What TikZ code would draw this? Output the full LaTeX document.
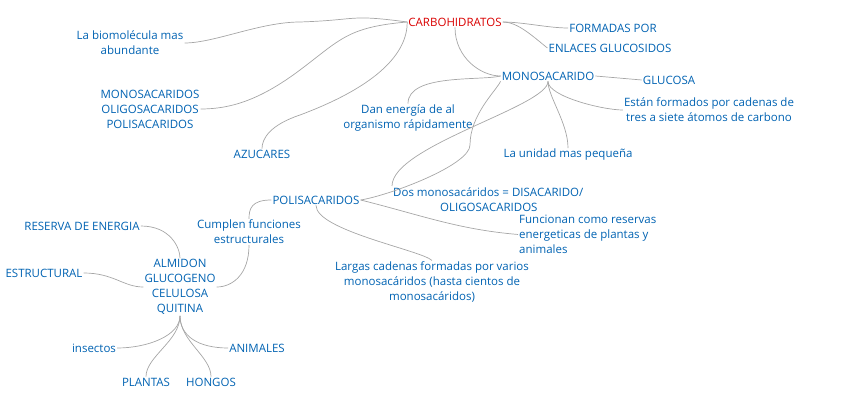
\documentclass[tikz,border=0pt]{standalone}
\usepackage{fontspec}
\setmainfont{Open Sans}
\begin{document}
\begin{tikzpicture}[x=1pt,y=-1pt,
  t/.style={text=blue!45!cyan!70!black,font=\fontsize{11.5}{15}\selectfont,inner sep=1pt,align=center},
  c/.style={draw=gray!70,line width=0.7pt}]
\useasboundingbox (0,0) rectangle (848,403);
\node[t,text=red!85!black] (carb) at (455,22) {CARBOHIDRATOS};
\node[t] (form) at (613,28) {FORMADAS POR};
\node[t] (enl) at (610,48) {ENLACES GLUCOSIDOS};
\node[t] (bio) at (130,43) {La biomolécula mas\\abundante};
\node[t] (mos) at (150,109) {MONOSACARIDOS\\OLIGOSACARIDOS\\POLISACARIDOS};
\node[t] (azu) at (262,154) {AZUCARES};
\node[t] (dan) at (408,118) {Dan energía de al\\organismo rápidamente};
\node[t] (mono) at (548,76) {MONOSACARIDO};
\node[t] (glu) at (669,80) {GLUCOSA};
\node[t] (est) at (709,110) {Están formados por cadenas de\\tres a siete átomos de carbono};
\node[t] (uni) at (568,155) {La unidad mas pequeña};
\node[t,align=left,anchor=north west] (dos) at (392,186) {Dos monosacáridos = DISACARIDO/\\\hspace*{47pt}OLIGOSACARIDOS};
\node[t,align=left,anchor=north west] (fun) at (518,214) {Funcionan como reservas\\energeticas de plantas y\\animales};
\node[t] (pol) at (316,200) {POLISACARIDOS};
\node[t] (cum) at (249,232) {Cumplen funciones\\estructurales};
\node[t] (lar) at (432,282) {Largas cadenas formadas por varios\\monosacáridos (hasta cientos de\\monosacáridos)};
\node[t] (res) at (82,226) {RESERVA DE ENERGIA};
\node[t] (estr) at (44,273) {ESTRUCTURAL};
\node[t] (alm) at (180,287) {ALMIDON\\GLUCOGENO\\CELULOSA\\QUITINA};
\node[t] (ins) at (94,348) {insectos};
\node[t] (ani) at (257,348) {ANIMALES};
\node[t] (pla) at (146,382) {PLANTAS};
\node[t] (hon) at (211,382) {HONGOS};
% connectors
\draw[c] (carb.west) .. controls +(-60,-8) and +(60,-2) .. (300,22) .. controls +(-40,0) and +(30,0) .. (bio.east);
\draw[c] (carb.west) .. controls +(-60,5) and +(40,-30) .. (300,70) .. controls +(-40,30) and +(30,0) .. (mos.east);
\draw[c] (carb.west) .. controls +(0,30) and +(80,-30) .. (300,115) .. controls +(-30,10) and +(0,-10) .. (azu.north);
\draw[c] (carb.east) .. controls +(20,0) and +(-20,0) .. (form.west);
\draw[c] (carb.east) .. controls +(15,0) and +(-15,-12) .. (enl.west);
\draw[c] (carb.south) .. controls +(0,30) and +(-20,0) .. (mono.west);
\draw[c] (dan.north) .. controls +(0,-30) and +(-20,5) .. (mono.west);
\draw[c] (mono.east) -- (glu.west);
\draw[c] (mono.south) .. controls +(0,15) and +(-20,0) .. (est.west);
\draw[c] (mono.south) .. controls +(0,15) and +(0,-25) .. (uni.north);
\draw[c] (mono.south) .. controls +(0,25) and +(0,-40) .. (dos.north west);
\draw[c] (pol.east) .. controls +(30,-5) and +(0,20) .. (470,145) .. controls +(0,-30) and +(-5,10) .. (mono.south west);
\draw[c] (pol.east) .. controls +(60,15) and +(-60,-5) .. (fun.west);
\draw[c] (pol.south) .. controls +(0,25) and +(-10,-10) .. (lar.north);
\draw[c] (pol.west) .. controls +(-20,0) and +(0,-10) .. (cum.north);
\draw[c] (cum.south) .. controls +(0,30) and +(15,0) .. (alm.east);
\draw[c] (res.east) .. controls +(30,0) and +(0,-10) .. (alm.north);
\draw[c] (estr.east) .. controls +(30,0) and +(-20,0) .. (alm.west);
\draw[c] (alm.south) .. controls +(0,20) and +(30,0) .. (ins.east);
\draw[c] (alm.south) .. controls +(0,20) and +(-30,0) .. (ani.west);
\draw[c] (alm.south) .. controls +(0,25) and +(0,-20) .. (pla.north);
\draw[c] (alm.south) .. controls +(0,25) and +(0,-20) .. (hon.north);
\end{tikzpicture}
\end{document}
